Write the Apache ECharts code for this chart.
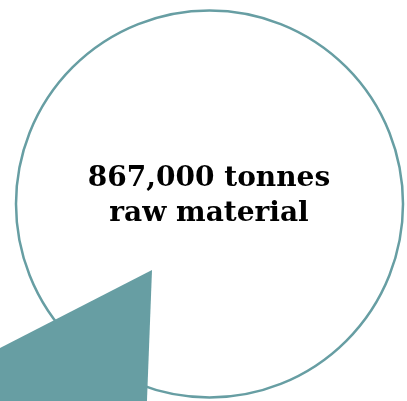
<!DOCTYPE html>
<html><head><meta charset="utf-8">
<script src="https://cdn.jsdelivr.net/npm/echarts@6/dist/echarts.min.js"></script>
<style>html,body{margin:0;padding:0;background:#fff}#c{width:407px;height:401px}</style>
</head><body><div id="c"></div>
<script>
// thousand tonnes
const totalLabel = ['867,000 tonnes', 'raw material'];
const totalValue = [867];
const shareValues = [146, 721];
const teal = '#679ea3';

const chart = echarts.init(document.getElementById('c'), null, {renderer: 'canvas'});
chart.setOption({
  animation: false,
  graphic: [{
    type: 'text', x: 209, y: 161, z: 10,
    style: {text: totalLabel.join('\n'), align: 'center', verticalAlign: 'top',
      font: 'bold 28px "DejaVu Serif"', lineHeight: 35, fill: '#000'}
  }],
  series: [
    {
      type: 'pie', center: [209.5, 204], radius: [0, 193.5], silent: true, z: 1,
      label: {show: false}, labelLine: {show: false},
      itemStyle: {color: 'rgba(0,0,0,0)', borderColor: teal, borderWidth: 2.5},
      data: totalValue.map(v => ({value: v}))
    },
    {
      type: 'pie', center: [152, 270], radius: [0, 500], silent: true, z: 2,
      startAngle: 267.8, clockwise: true,
      label: {show: false}, labelLine: {show: false},
      data: shareValues.map((v, i) => ({value: v, itemStyle: {color: i === 0 ? teal : 'rgba(0,0,0,0)', borderWidth: 0}}))
    }
  ]
});
</script></body></html>
